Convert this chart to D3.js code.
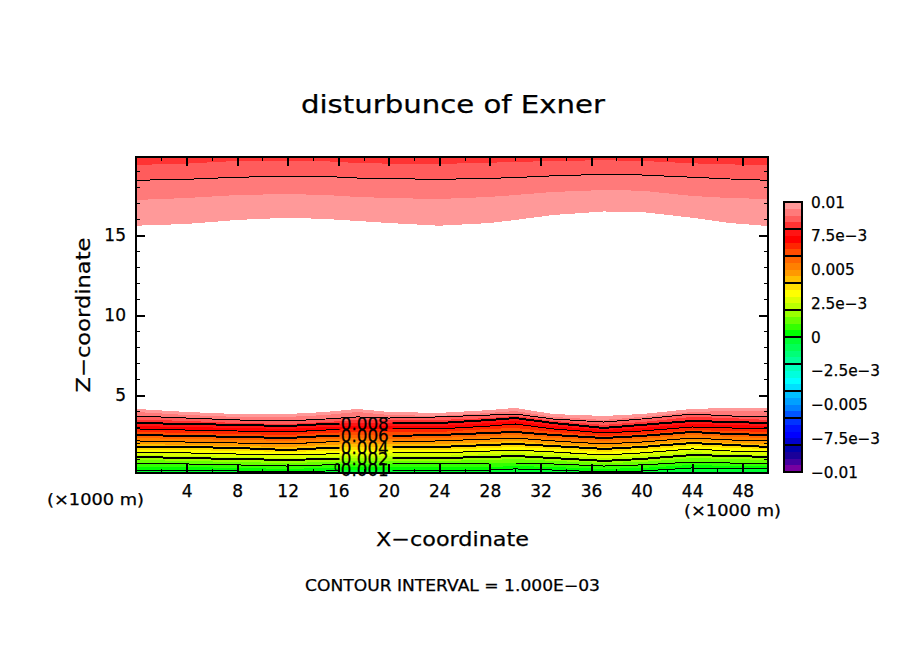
<!DOCTYPE html>
<html>
<head>
<meta charset="utf-8">
<script src="https://cdnjs.cloudflare.com/ajax/libs/d3/7.8.5/d3.min.js"></script>
<style>
  html, body { margin: 0; background: #fff; }
  svg { display: block; }
  text { font-family: "DejaVu Sans", sans-serif; fill: #000; stroke: #000; stroke-width: 0.25; }
  .domain { display: none; }
  .tick line { stroke: #000; stroke-width: 2; shape-rendering: crispEdges; }
  .minor .tick line { stroke-width: 1; }
</style>
</head>
<body>
<svg id="chart" width="904" height="654"></svg>
<script>
var stations = [0, 4, 8, 12, 15, 17.5, 20, 24, 28, 30, 33, 37, 40, 44, 47, 50]

// heights (km) of the contours in the upper layer
var upper0085 = [19.38,19.46,19.63,19.64,19.61,19.5,19.46,19.44,19.52,19.56,19.63,19.67,19.63,19.48,19.41,19.38]
var upper0090 = [18.42,18.48,18.61,18.67,18.66,18.56,18.52,18.48,18.54,18.59,18.7,18.79,18.75,18.61,18.5,18.42]
var upper0095 = [17.19,17.31,17.5,17.56,17.5,17.38,17.31,17.25,17.38,17.5,17.69,17.81,17.77,17.44,17.31,17.25]
var upper0100 = [15.58,15.69,15.94,16.08,16.0,15.88,15.75,15.58,15.75,15.94,16.25,16.47,16.44,16.08,15.75,15.56]

// heights (km) of the contours in the lower layer
var lower0000 = [.31,.31,.25,.19,.25,.31,.31,.31,.31,.38,.31,.19,.25,.44,.38,.38]
var lower0005 = [.5,.5,.44,.38,.44,.5,.5,.5,.5,.56,.5,.38,.44,.63,.56,.56]
var lower0010 = [.69,.69,.63,.56,.63,.69,.69,.69,.75,.75,.69,.56,.63,.81,.75,.75]
var lower0015 = [.94,.88,.81,.75,.81,.88,.88,.88,.94,1.0,.88,.75,.81,1.06,1.0,.94]
var lower0020 = [1.13,1.06,1.0,.94,1.0,1.06,1.06,1.06,1.13,1.19,1.06,.88,1.0,1.25,1.19,1.13]
var lower0025 = [1.25,1.19,1.13,1.06,1.13,1.19,1.19,1.19,1.31,1.38,1.25,1.06,1.19,1.44,1.31,1.25]
var lower0030 = [1.38,1.38,1.31,1.25,1.31,1.38,1.38,1.38,1.5,1.56,1.44,1.25,1.38,1.63,1.5,1.44]
var lower0035 = [1.56,1.56,1.5,1.44,1.5,1.56,1.56,1.56,1.69,1.75,1.63,1.44,1.56,1.81,1.69,1.63]
var lower0040 = [1.75,1.75,1.69,1.56,1.69,1.75,1.75,1.75,1.88,1.94,1.81,1.63,1.75,2.0,1.88,1.75]
var lower0045 = [1.94,1.88,1.81,1.75,1.88,1.94,1.94,1.94,2.06,2.13,1.94,1.75,1.88,2.13,2.0,1.94]
var lower0050 = [2.13,2.06,2.0,1.94,2.06,2.13,2.06,2.13,2.25,2.31,2.13,1.94,2.06,2.31,2.19,2.13]
var lower0055 = [2.31,2.25,2.19,2.13,2.25,2.31,2.25,2.31,2.44,2.5,2.31,2.13,2.25,2.5,2.38,2.31]
var lower0060 = [2.5,2.44,2.38,2.31,2.44,2.5,2.44,2.5,2.63,2.69,2.5,2.31,2.44,2.69,2.56,2.5]
var lower0065 = [2.69,2.63,2.56,2.5,2.63,2.69,2.69,2.69,2.88,2.94,2.69,2.44,2.56,2.81,2.75,2.69]
var lower0070 = [2.88,2.81,2.75,2.69,2.81,2.88,2.88,2.88,3.06,3.19,2.88,2.63,2.75,3.0,2.94,2.88]
var lower0075 = [3.06,3.0,2.94,2.88,3.0,3.06,3.06,3.06,3.25,3.38,3.06,2.81,2.94,3.19,3.13,3.06]
var lower0080 = [3.25,3.19,3.13,3.06,3.19,3.25,3.25,3.25,3.44,3.56,3.25,2.94,3.13,3.38,3.31,3.25]
var lower0085 = [3.47,3.38,3.25,3.19,3.31,3.44,3.41,3.44,3.56,3.69,3.38,3.13,3.31,3.63,3.56,3.44]
var lower0090 = [3.69,3.56,3.44,3.38,3.5,3.63,3.56,3.63,3.75,3.81,3.5,3.31,3.5,3.81,3.69,3.63]
var lower0095 = [3.94,3.75,3.63,3.63,3.75,3.94,3.75,3.69,3.88,4.0,3.63,3.44,3.63,3.94,4.0,4.0]
var lower0100 = [4.13,3.94,3.81,3.81,3.94,4.13,3.94,3.88,4.06,4.19,3.81,3.69,3.81,4.13,4.19,4.19]

var lowerLevels = [lower0000, lower0005, lower0010, lower0015, lower0020, lower0025, lower0030, lower0035, lower0040, lower0045, lower0050, lower0055, lower0060, lower0065, lower0070, lower0075, lower0080, lower0085, lower0090, lower0095, lower0100]
var lowerValues = [0, .0005, .001, .0015, .002, .0025, .003, .0035, .004, .0045, .005, .0055, .006, .0065, .007, .0075, .008, .0085, .009, .0095, .01]
var upperLevels = [upper0100, upper0095, upper0090, upper0085]
var upperValues = [.01, .0095, .009, .0085]

// band colours from 0.01 down to -0.01, one per 5e-4
var bandColors = [
  '#ff9999','#ff7a7a','#ff5c5c','#ff3333',
  '#ff1414','#ff0000','#ff2600','#ff4c00',
  '#ff6600','#ff8000','#ff9900','#ffbf00',
  '#ffdd00','#ffff00','#ddff00','#bbff00',
  '#99ff00','#66ff00','#33ff00','#00ff00',
  '#00ff33','#00ff55','#00ff77','#00ff99',
  '#00ffbb','#00ffdd','#00ffff','#00e0ff',
  '#00bfff','#00a0ff','#0080ff','#0055ff',
  '#0033ff','#0011ff','#0000ff','#0000cc',
  '#0000aa','#1a0099','#4400a0','#7700a0'
]

var xMajor = [4, 8, 12, 16, 20, 24, 28, 32, 36, 40, 44, 48]
var xMinor = [2, 6, 10, 14, 18, 22, 26, 30, 34, 38, 42, 46]
var zMajor = [5, 10, 15]
var zMinor = [1, 2, 3, 4, 6, 7, 8, 9, 11, 12, 13, 14, 16, 17, 18, 19]
var barTicks = [.01, .0075, .005, .0025, 0, -.0025, -.005, -.0075, -.01]
var barTickLabels = ['0.01', '7.5e\u22123', '0.005', '2.5e\u22123', '0', '\u22122.5e\u22123', '\u22120.005', '\u22127.5e\u22123', '\u22120.01']
var barSeparators = [.008, .006, .004, .002, 0, -.002, -.004, -.006, -.008]

var contourLabels = ['0.008', '0.006', '0.004', '0.002', '0.001']
var contourLabelHeights = [3.19, 2.44, 1.69, 1.0, 0.31]

var svg = d3.select('#chart')

var x = d3.scaleLinear().domain([0, 50]).range([136, 768])
var z = d3.scaleLinear().domain([0.125, 19.875]).range([473, 157])
var barY = d3.scaleLinear().domain([-.01, .01]).range([472, 202])

function colorOf(top){
  return bandColors[Math.round((.01 - top) / .0005)]
}

var plot = svg.append('g').attr('shape-rendering', 'crispEdges')

function bandArea(low, high){
  return d3.area()
    .x(function(d, i){ return x(stations[i]) })
    .y0(function(d, i){ return z(low === null ? z.domain()[0] : low[i]) })
    .y1(function(d, i){ return z(high === null ? z.domain()[1] : high[i]) })(stations)
}

// lower layer, ground up
plot.append('path').attr('d', bandArea(null, lower0000)).attr('fill', colorOf(0))
lowerLevels.slice(0, -1).forEach(function(level, i){
  plot.append('path')
    .attr('d', bandArea(level, lowerLevels[i + 1]))
    .attr('fill', colorOf(lowerValues[i + 1]))
})

// upper layer, top down
upperLevels.forEach(function(level, i){
  plot.append('path')
    .attr('d', bandArea(level, upperLevels[i + 1] || null))
    .attr('fill', colorOf(upperValues[i]))
})
// the band above the last contour
plot.append('path').attr('d', bandArea(upper0085, null)).attr('fill', colorOf(.0085))

// contour lines, broken where the labels sit
svg.append('clipPath').attr('id', 'label-gap')
  .selectAll('rect').data([[0, 16.1], [20.3, 50]]).enter().append('rect')
  .attr('x', function(d){ return x(d[0]) })
  .attr('width', function(d){ return x(d[1]) - x(d[0]) })
  .attr('y', z(19.875)).attr('height', z(0.125) - z(19.875))

var line = d3.line()
  .x(function(d, i){ return x(stations[i]) })
  .y(function(d){ return z(d) })

var lineLevels = [
  [lower0000, 1, true], [lower0010, 1, true], [lower0020, 2, true], [lower0030, 1, true],
  [lower0040, 2, true], [lower0050, 1, true], [lower0060, 2, true], [lower0070, 1, true],
  [lower0080, 2, true], [lower0090, 1, false], [upper0090, 1, false]
]
plot.selectAll('path.contour').data(lineLevels).enter().append('path')
  .attr('class', 'contour')
  .attr('d', function(d){ return line(d[0]) })
  .attr('fill', 'none').attr('stroke', '#000')
  .attr('stroke-width', function(d){ return d[1] })
  .attr('clip-path', function(d){ return d[2] ? 'url(#label-gap)' : null })

// contour labels
svg.selectAll('text.clabel').data(contourLabels).enter().append('text')
  .attr('class', 'clabel')
  .attr('x', x(18.1))
  .attr('y', function(d, i){ return z(contourLabelHeights[i]) })
  .attr('dy', '0.36em')
  .attr('text-anchor', 'middle')
  .attr('font-size', 17)
  .attr('textLength', 48)
  .attr('lengthAdjust', 'spacingAndGlyphs')
  .text(function(d){ return d })
svg.append('text').attr('x', 334).attr('y', z(0.5)).attr('dy', '0.36em')
  .attr('font-size', 10).text('0')

// frame
svg.append('rect')
  .attr('x', 136).attr('y', 157).attr('width', 632).attr('height', 316)
  .attr('fill', 'none').attr('stroke', '#000').attr('stroke-width', 2)
  .attr('shape-rendering', 'crispEdges')

// axes, ticks point inward on all four sides
function noLabels(sel){ sel.selectAll('text').remove() }
svg.append('g').attr('transform', 'translate(0,473)')
  .call(d3.axisBottom(x).tickValues(xMajor).tickSize(-9).tickPadding(12).tickFormat(d3.format('d')))
  .call(function(g){ g.selectAll('text').attr('font-size', 17).style('font-family', '"DejaVu Sans"') })
svg.append('g').attr('class', 'minor').attr('transform', 'translate(0,473)')
  .call(d3.axisBottom(x).tickValues(xMinor).tickSize(-4)).call(noLabels)
svg.append('g').attr('transform', 'translate(0,157)')
  .call(d3.axisTop(x).tickValues(xMajor).tickSize(-9)).call(noLabels)
svg.append('g').attr('class', 'minor').attr('transform', 'translate(0,157)')
  .call(d3.axisTop(x).tickValues(xMinor).tickSize(-4)).call(noLabels)
svg.append('g').attr('transform', 'translate(136,0)')
  .call(d3.axisLeft(z).tickValues(zMajor).tickSize(-9).tickPadding(10).tickFormat(d3.format('d')))
  .call(function(g){ g.selectAll('text').attr('font-size', 17).style('font-family', '"DejaVu Sans"') })
svg.append('g').attr('class', 'minor').attr('transform', 'translate(136,0)')
  .call(d3.axisLeft(z).tickValues(zMinor).tickSize(-4)).call(noLabels)
svg.append('g').attr('transform', 'translate(768,0)')
  .call(d3.axisRight(z).tickValues(zMajor).tickSize(-9)).call(noLabels)
svg.append('g').attr('class', 'minor').attr('transform', 'translate(768,0)')
  .call(d3.axisRight(z).tickValues(zMinor).tickSize(-4)).call(noLabels)

// colour bar
var bar = svg.append('g').attr('shape-rendering', 'crispEdges')
bar.selectAll('rect.band').data(bandColors).enter().append('rect')
  .attr('class', 'band')
  .attr('x', 784).attr('width', 18)
  .attr('y', function(d, i){ return barY(.01 - i * .0005) })
  .attr('height', barY(0) - barY(.0005) + .5)
  .attr('fill', function(d){ return d })
bar.selectAll('line').data(barSeparators).enter().append('line')
  .attr('x1', 784).attr('x2', 802)
  .attr('y1', function(d){ return barY(d) }).attr('y2', function(d){ return barY(d) })
  .attr('stroke', '#000').attr('stroke-width', 2)
bar.append('rect')
  .attr('x', 784).attr('y', 202).attr('width', 18).attr('height', 270)
  .attr('fill', 'none').attr('stroke', '#000').attr('stroke-width', 2)
svg.selectAll('text.barlabel').data(barTicks).enter().append('text')
  .attr('class', 'barlabel')
  .attr('x', 811)
  .attr('y', function(d){ return barY(d) })
  .attr('dy', '0.36em')
  .attr('font-size', 15.3)
  .text(function(d, i){ return barTickLabels[i] })

// titles and notes
function note(txt, cx, cy, size, width){
  return svg.append('text').attr('x', cx).attr('y', cy).attr('dy', '0.36em')
    .attr('text-anchor', 'middle').attr('font-size', size)
    .attr('textLength', width).attr('lengthAdjust', 'spacingAndGlyphs')
    .text(txt)
}
note('disturbunce of Exner', 453, 104, 25, 304)
note('X\u2212coordinate', 452.5, 539, 20, 153)
note('(\u00d71000 m)', 95.5, 500, 15, 97)
note('(\u00d71000 m)', 732.5, 511, 15, 97)
note('CONTOUR INTERVAL = 1.000E\u221203', 452.5, 586, 15, 295)
note('Z\u2212coordinate', 0, 0, 20, 155).attr('transform', 'translate(83,315) rotate(-90)')
</script>
</body>
</html>
